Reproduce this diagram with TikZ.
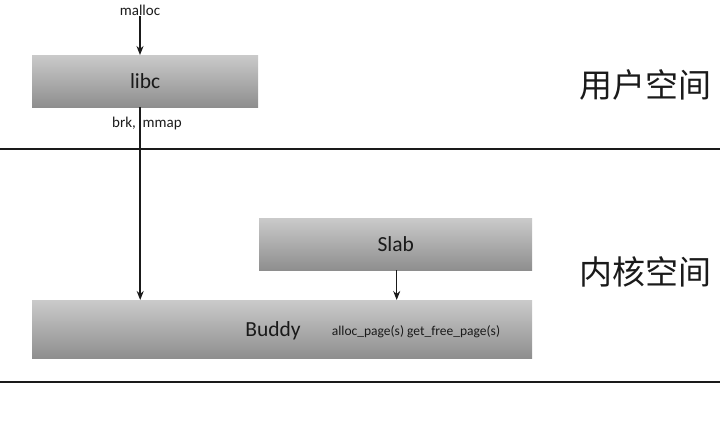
\documentclass[tikz,border=0pt]{standalone}
\usepackage{fontspec}
\setmainfont{Carlito}
\newfontfamily\cjk{Noto Sans CJK SC}
\usetikzlibrary{arrows.meta, positioning, calc}
\definecolor{boxtop}{HTML}{CACACA}
\definecolor{boxbot}{HTML}{8E8E8E}
\definecolor{ink}{HTML}{1A1A1A}

\begin{document}
\begin{tikzpicture}[
  x=1pt, y=-1pt,
  layer/.style={shading=axis, top color=boxtop, bottom color=boxbot,
                anchor=north west, inner sep=0pt, text=ink},
  layertext/.style={font=\fontsize{21.5}{24}\selectfont, text=ink},
  arr/.style={-{Stealth[length=9pt, width=7pt]}, line width=1.5pt, color=ink},
  sep/.style={line width=1.5pt, color=ink},
  small/.style={font=\fontsize{15}{17}\selectfont, text=ink, inner sep=1pt},
  space/.style={font=\cjk\fontsize{33}{36}\selectfont, text=ink}
]
  \useasboundingbox (0,0) rectangle (720,436);

  % separators between user and kernel space
  \draw[sep] (0,149) -- (720,149);
  \draw[sep] (0,382) -- (720,382);

  \node[layer, minimum width=226pt, minimum height=52pt] (libc) at (32,55) {};
  \node[layertext] at (libc.center) {libc};
  \node[layer, minimum width=273pt, minimum height=52pt] (slab) at (259,218) {};
  \node[layertext] at (slab.center) {Slab};
  \node[layer, minimum width=500pt, minimum height=58pt] (buddy) at (32,300) {};
  \node[layertext] (buddyname) at (273,331) {Buddy};
  \node[small, font=\fontsize{13.5}{15}\selectfont] (pageapi) at (416,332) {alloc\_page(s) get\_free\_page(s)};

  \node[small] (malloc) at (140,10) {malloc};
  \node[small, anchor=west] (brk) at (111,124) {brk,\ \ mmap};

  \draw[arr] (malloc.south) -- (malloc.south |- libc.north);
  \draw[arr] ([xshift=-5pt]libc.south) -- ([xshift=-5pt]libc.south |- buddy.north);
  \draw[arr] ([xshift=1pt]slab.south) -- ([xshift=1pt]slab.south |- buddy.north);

  \node[space] (user) at (645,85) {用户空间};
  \node[space] (kernel) at (645,272) {内核空间};
\end{tikzpicture}
\end{document}
